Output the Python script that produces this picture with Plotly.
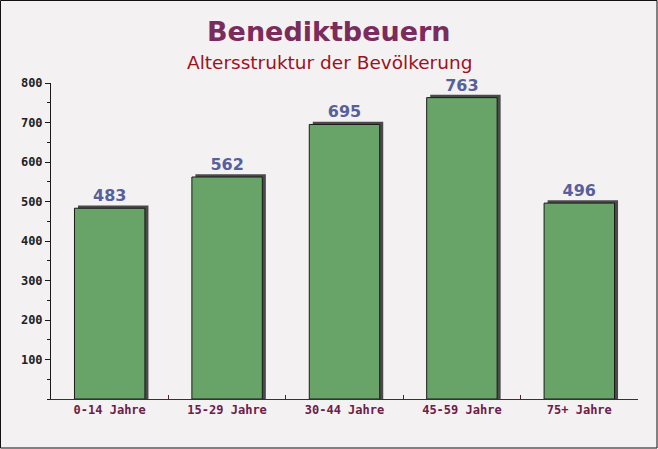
import plotly.graph_objects as go

categories = ["0-14 Jahre", "15-29 Jahre", "30-44 Jahre", "45-59 Jahre", "75+ Jahre"]
values = [483, 562, 695, 763, 496]
y_ticks = [100, 200, 300, 400, 500, 600, 700, 800]

L, R, T, B = 51, 20, 83, 50
W, H = 658, 449
PW, PH = W - L - R, H - T - B

fig = go.Figure()

# shadow (3D effect)
fig.add_trace(go.Bar(
    x=categories, y=[v + 7 for v in values],
    width=0.6, offset=-0.27,
    marker=dict(color="#4a4a4a", line=dict(width=0)),
    hoverinfo="skip", showlegend=False,
))
fig.add_trace(go.Bar(
    x=categories, y=values,
    width=0.6, offset=-0.3,
    marker=dict(color="#68a468", line=dict(color="#1a1a1a", width=1)),
    text=[str(v) for v in values], textposition="outside",
    textfont=dict(family="DejaVu Sans", size=16, color="#56609a", weight="bold"),
    cliponaxis=False, showlegend=False,
))

cx = (W / 2 - L) / PW

fig.update_layout(
    width=W, height=H,
    barmode="overlay",
    margin=dict(l=L, r=R, t=T, b=B, autoexpand=False),
    paper_bgcolor="#f4f1f2",
    plot_bgcolor="rgba(0,0,0,0)",
    xaxis=dict(
        showline=True, linecolor="#5a2030", linewidth=1,
        ticks="inside", tickson="boundaries", ticklen=4, tickcolor="#5a2030",
        showgrid=False,
        tickfont=dict(family="DejaVu Sans Mono", size=12, color="#6a2048", weight="bold"),
        range=[-0.5, 4.5],
    ),
    yaxis=dict(
        range=[0, 800], tickvals=y_ticks,
        showline=True, linecolor="#1a1a1a", linewidth=1,
        ticks="outside", ticklen=5, tickcolor="#1a1a1a",
        minor=dict(dtick=50, ticks="outside", ticklen=3, tickcolor="#1a1a1a"),
        showgrid=False, zeroline=False,
        tickfont=dict(family="DejaVu Sans Mono", size=12, color="#222222", weight="bold"),
    ),
    annotations=[
        dict(text="<b>Benediktbeuern</b>", xref="paper", yref="paper",
             x=cx, y=(H - B - 31) / PH,
             xanchor="center", yanchor="middle", showarrow=False,
             font=dict(family="DejaVu Sans", size=27, color="#7a2c5c")),
        dict(text="Altersstruktur der Bevölkerung", xref="paper", yref="paper",
             x=cx, y=(H - B - 62) / PH,
             xanchor="center", yanchor="middle", showarrow=False,
             font=dict(family="DejaVu Sans", size=18.5, color="#9b1224")),
    ],
    shapes=[dict(type="rect", xref="paper", yref="paper",
                 x0=-(L - 0.5) / PW, x1=1 + (R - 1) / PW,
                 y0=-(B - 1) / PH, y1=1 + (T - 0.5) / PH,
                 line=dict(color="#111111", width=1), fillcolor="rgba(0,0,0,0)")],
)

fig.write_html("out.html", config={"displayModeBar": False},
               post_script="document.body.style.margin='0';")
